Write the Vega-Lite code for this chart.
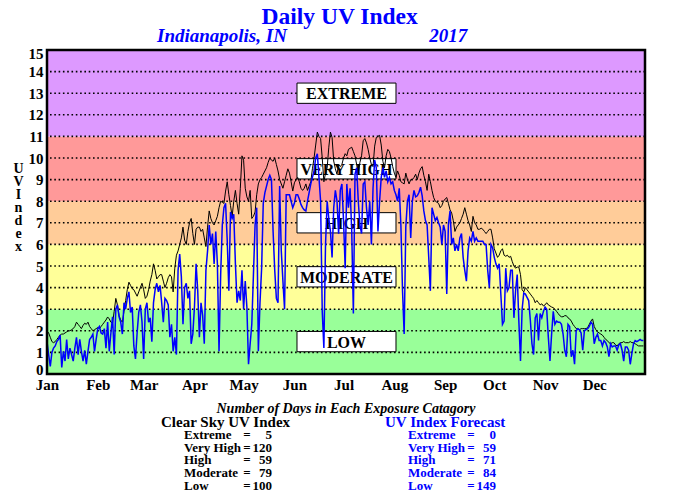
{
  "$schema": "https://vega.github.io/schema/vega-lite/v6.json",
  "padding": {"left": 12, "top": 5, "right": 5, "bottom": 5},
  "background": "white",
  "config": {"font": "Liberation Serif", "view": {"stroke": null}},
  "title": {
    "text": "Daily UV Index",
    "color": "#0000ff",
    "font": "Liberation Serif",
    "fontSize": 23.5,
    "fontWeight": "bold",
    "offset": -2,
    "dx": 10,
    "anchor": "middle"
  },
  "datasets": {
    "bands": [
      {"cat": "LOW", "lo": 0, "hi": 3, "mid": 1.5},
      {"cat": "MODERATE", "lo": 3, "hi": 6, "mid": 4.5},
      {"cat": "HIGH", "lo": 6, "hi": 8, "mid": 7},
      {"cat": "VERY HIGH", "lo": 8, "hi": 11, "mid": 9.5},
      {"cat": "EXTREME", "lo": 11, "hi": 15, "mid": 13}
    ],
    "grid": [{"g":1},{"g":2},{"g":3},{"g":4},{"g":5},{"g":6},{"g":7},{"g":8},{"g":9},{"g":10},{"g":11},{"g":12},{"g":13},{"g":14}],
    "counts": [
      {"group": "Clear Sky UV Index", "row": 1, "cat": "Extreme", "n": 5},
      {"group": "Clear Sky UV Index", "row": 2, "cat": "Very High", "n": 120},
      {"group": "Clear Sky UV Index", "row": 3, "cat": "High", "n": 59},
      {"group": "Clear Sky UV Index", "row": 4, "cat": "Moderate", "n": 79},
      {"group": "Clear Sky UV Index", "row": 5, "cat": "Low", "n": 100},
      {"group": "UV Index Forecast", "row": 1, "cat": "Extreme", "n": 0},
      {"group": "UV Index Forecast", "row": 2, "cat": "Very High", "n": 59},
      {"group": "UV Index Forecast", "row": 3, "cat": "High", "n": 71},
      {"group": "UV Index Forecast", "row": 4, "cat": "Moderate", "n": 84},
      {"group": "UV Index Forecast", "row": 5, "cat": "Low", "n": 149}
    ],
    "uv": [
{"d":0,"c":2.0,"f":1.5},{"d":1,"c":1.9,"f":0.9},{"d":2,"c":1.7,"f":0.35},{"d":3,"c":1.5,"f":1.0},{"d":4,"c":1.45,"f":1.2},{"d":5,"c":1.5,"f":1.3},{"d":6,"c":1.6,"f":1.5},{"d":7,"c":1.7,"f":1.6},{"d":8,"c":1.8,"f":1.8},{"d":9,"c":1.85,"f":0.3},
{"d":10,"c":1.85,"f":1.05},{"d":11,"c":1.9,"f":0.6},{"d":12,"c":1.95,"f":1.6},{"d":13,"c":2.0,"f":0.7},{"d":14,"c":2.0,"f":1.2},{"d":15,"c":2.05,"f":0.9},{"d":16,"c":2.1,"f":0.6},{"d":17,"c":2.2,"f":1.2},{"d":18,"c":2.4,"f":1.7},{"d":19,"c":2.3,"f":0.9},
{"d":20,"c":2.2,"f":1.6},{"d":21,"c":2.1,"f":1.05},{"d":22,"c":2.25,"f":0.6},{"d":23,"c":2.35,"f":1.1},{"d":24,"c":2.3,"f":0.45},{"d":25,"c":2.4,"f":1.05},{"d":26,"c":2.2,"f":1.6},{"d":27,"c":2.1,"f":1.7},{"d":28,"c":2.0,"f":1.85},{"d":29,"c":2.05,"f":1.05},
{"d":30,"c":2.1,"f":1.6},{"d":31,"c":2.15,"f":2.1},{"d":32,"c":2.1,"f":2.2},{"d":33,"c":2.2,"f":1.9},{"d":34,"c":2.3,"f":1.85},{"d":35,"c":2.4,"f":2.1},{"d":36,"c":2.5,"f":1.2},{"d":37,"c":2.64,"f":2.4},{"d":38,"c":2.55,"f":1.05},{"d":39,"c":2.4,"f":1.9},
{"d":40,"c":2.35,"f":2.65},{"d":41,"c":2.9,"f":0.9},{"d":42,"c":3.5,"f":3.0},{"d":43,"c":3.2,"f":3.2},{"d":44,"c":2.7,"f":2.65},{"d":45,"c":2.5,"f":2.4},{"d":46,"c":2.4,"f":1.85},{"d":47,"c":2.9,"f":3.3},{"d":48,"c":3.4,"f":3.0},{"d":49,"c":3.9,"f":3.5},
{"d":50,"c":4.25,"f":3.8},{"d":51,"c":4.1,"f":2.85},{"d":52,"c":3.95,"f":3.1},{"d":53,"c":3.9,"f":1.3},{"d":54,"c":3.75,"f":0.7},{"d":55,"c":3.6,"f":1.9},{"d":56,"c":3.8,"f":2.85},{"d":57,"c":4.0,"f":3.2},{"d":58,"c":4.2,"f":2.4},{"d":59,"c":3.9,"f":0.7},
{"d":60,"c":3.5,"f":3.0},{"d":61,"c":3.6,"f":3.3},{"d":62,"c":3.9,"f":2.4},{"d":63,"c":4.3,"f":2.6},{"d":64,"c":4.6,"f":1.5},{"d":65,"c":5.1,"f":3.3},{"d":66,"c":4.8,"f":3.9},{"d":67,"c":4.4,"f":4.2},{"d":68,"c":4.5,"f":3.8},{"d":69,"c":4.6,"f":4.1},
{"d":70,"c":4.6,"f":3.3},{"d":71,"c":4.3,"f":2.4},{"d":72,"c":4.0,"f":3.5},{"d":73,"c":4.2,"f":3.4},{"d":74,"c":4.46,"f":3.2},{"d":75,"c":4.6,"f":1.7},{"d":76,"c":4.5,"f":2.3},{"d":77,"c":3.8,"f":1.05},{"d":78,"c":4.9,"f":1.7},{"d":79,"c":5.5,"f":0.9},
{"d":80,"c":5.7,"f":4.8},{"d":81,"c":6.0,"f":5.55},{"d":82,"c":6.3,"f":4.5},{"d":83,"c":6.8,"f":2.3},{"d":84,"c":6.2,"f":4.0},{"d":85,"c":6.0,"f":4.2},{"d":86,"c":6.6,"f":3.5},{"d":87,"c":7.0,"f":3.85},{"d":88,"c":7.2,"f":1.4},{"d":89,"c":6.5,"f":1.85},
{"d":90,"c":6.0,"f":3.1},{"d":91,"c":6.7,"f":5.1},{"d":92,"c":6.8,"f":3.85},{"d":93,"c":6.8,"f":1.7},{"d":94,"c":6.6,"f":3.3},{"d":95,"c":6.7,"f":2.7},{"d":96,"c":6.3,"f":1.4},{"d":97,"c":5.9,"f":4.8},{"d":98,"c":6.8,"f":5.7},{"d":99,"c":7.55,"f":6.9},
{"d":100,"c":7.2,"f":6.0},{"d":101,"c":7.0,"f":6.5},{"d":102,"c":6.9,"f":5.1},{"d":103,"c":7.1,"f":6.6},{"d":104,"c":7.3,"f":5.1},{"d":105,"c":7.7,"f":1.05},{"d":106,"c":8.0,"f":4.6},{"d":107,"c":7.95,"f":6.9},{"d":108,"c":7.9,"f":7.7},{"d":109,"c":8.47,"f":7.9},
{"d":110,"c":8.9,"f":6.2},{"d":111,"c":8.3,"f":3.85},{"d":112,"c":7.8,"f":7.5},{"d":113,"c":7.3,"f":7.2},{"d":114,"c":8.0,"f":7.4},{"d":115,"c":8.5,"f":5.1},{"d":116,"c":7.9,"f":3.3},{"d":117,"c":7.4,"f":3.85},{"d":118,"c":8.6,"f":3.4},{"d":119,"c":10.1,"f":4.8},
{"d":120,"c":9.9,"f":3.0},{"d":121,"c":8.6,"f":4.3},{"d":122,"c":8.2,"f":3.1},{"d":123,"c":8.0,"f":0.45},{"d":124,"c":8.5,"f":1.4},{"d":125,"c":7.2,"f":2.3},{"d":126,"c":7.3,"f":4.6},{"d":127,"c":7.5,"f":6.9},{"d":128,"c":8.3,"f":7.7},{"d":129,"c":8.8,"f":1.05},
{"d":130,"c":9.0,"f":3.3},{"d":131,"c":9.1,"f":4.9},{"d":132,"c":9.25,"f":7.9},{"d":133,"c":9.4,"f":8.4},{"d":134,"c":9.55,"f":8.7},{"d":135,"c":9.8,"f":9.0},{"d":136,"c":10.0,"f":9.2},{"d":137,"c":9.9,"f":9.0},{"d":138,"c":9.85,"f":6.6},{"d":139,"c":10.0,"f":4.8},
{"d":140,"c":9.7,"f":3.5},{"d":141,"c":9.4,"f":3.3},{"d":142,"c":9.0,"f":8.7},{"d":143,"c":8.8,"f":5.7},{"d":144,"c":8.6,"f":4.3},{"d":145,"c":8.9,"f":3.0},{"d":146,"c":9.2,"f":8.3},{"d":147,"c":9.5,"f":8.3},{"d":148,"c":9.3,"f":8.3},{"d":149,"c":8.9,"f":8.0},
{"d":150,"c":8.47,"f":7.7},{"d":151,"c":8.85,"f":7.9},{"d":152,"c":9.0,"f":8.3},{"d":153,"c":9.1,"f":8.3},{"d":154,"c":8.9,"f":8.1},{"d":155,"c":8.6,"f":7.85},{"d":156,"c":8.5,"f":7.7},{"d":157,"c":8.6,"f":7.6},{"d":158,"c":8.8,"f":7.55},{"d":159,"c":8.5,"f":8.0},
{"d":160,"c":8.7,"f":8.4},{"d":161,"c":8.9,"f":8.8},{"d":162,"c":9.5,"f":9.1},{"d":163,"c":10.0,"f":9.4},{"d":164,"c":10.6,"f":10.0},{"d":165,"c":11.2,"f":10.2},{"d":166,"c":11.0,"f":9.1},{"d":167,"c":10.9,"f":8.0},{"d":168,"c":10.0,"f":2.9},{"d":169,"c":8.9,"f":1.2},
{"d":170,"c":9.3,"f":6.0},{"d":171,"c":9.55,"f":8.0},{"d":172,"c":10.5,"f":7.2},{"d":173,"c":11.2,"f":6.6},{"d":174,"c":10.95,"f":5.4},{"d":175,"c":9.86,"f":7.7},{"d":176,"c":9.5,"f":8.5},{"d":177,"c":9.25,"f":8.0},{"d":178,"c":9.7,"f":6.5},{"d":179,"c":9.6,"f":8.5},
{"d":180,"c":9.7,"f":8.8},{"d":181,"c":10.0,"f":7.1},{"d":182,"c":10.2,"f":4.9},{"d":183,"c":10.1,"f":8.8},{"d":184,"c":10.4,"f":7.7},{"d":185,"c":10.45,"f":8.6},{"d":186,"c":10.5,"f":6.6},{"d":187,"c":10.3,"f":2.8},{"d":188,"c":10.1,"f":9.25},{"d":189,"c":9.7,"f":9.55},
{"d":190,"c":9.3,"f":8.0},{"d":191,"c":9.8,"f":6.9},{"d":192,"c":10.1,"f":6.5},{"d":193,"c":10.8,"f":8.8},{"d":194,"c":10.9,"f":8.9},{"d":195,"c":10.7,"f":7.7},{"d":196,"c":10.4,"f":6.9},{"d":197,"c":10.0,"f":8.0},{"d":198,"c":9.7,"f":6.0},{"d":199,"c":9.6,"f":8.6},
{"d":200,"c":10.55,"f":9.9},{"d":201,"c":10.95,"f":9.55},{"d":202,"c":11.0,"f":6.6},{"d":203,"c":11.05,"f":8.0},{"d":204,"c":10.6,"f":9.1},{"d":205,"c":9.85,"f":9.55},{"d":206,"c":9.55,"f":9.1},{"d":207,"c":10.1,"f":9.4},{"d":208,"c":10.4,"f":8.9},{"d":209,"c":10.3,"f":9.1},
{"d":210,"c":10.0,"f":8.8},{"d":211,"c":9.6,"f":8.9},{"d":212,"c":9.3,"f":8.5},{"d":213,"c":9.1,"f":8.3},{"d":214,"c":9.4,"f":8.0},{"d":215,"c":9.2,"f":8.6},{"d":216,"c":8.9,"f":6.9},{"d":217,"c":8.85,"f":3.85},{"d":218,"c":8.8,"f":1.85},{"d":219,"c":9.3,"f":6.8},
{"d":220,"c":9.0,"f":8.0},{"d":221,"c":8.8,"f":8.3},{"d":222,"c":9.0,"f":6.3},{"d":223,"c":9.0,"f":8.0},{"d":224,"c":9.1,"f":8.5},{"d":225,"c":9.25,"f":8.2},{"d":226,"c":9.0,"f":8.25},{"d":227,"c":9.3,"f":8.4},{"d":228,"c":9.5,"f":8.65},{"d":229,"c":9.6,"f":8.25},
{"d":230,"c":9.2,"f":7.55},{"d":231,"c":8.9,"f":7.1},{"d":232,"c":8.5,"f":6.9},{"d":233,"c":9.25,"f":5.4},{"d":234,"c":8.9,"f":3.85},{"d":235,"c":8.5,"f":7.7},{"d":236,"c":8.17,"f":7.4},{"d":237,"c":8.0,"f":7.1},{"d":238,"c":7.95,"f":7.25},{"d":239,"c":7.9,"f":7.0},
{"d":240,"c":7.7,"f":6.8},{"d":241,"c":7.8,"f":6.0},{"d":242,"c":8.0,"f":6.9},{"d":243,"c":8.1,"f":6.6},{"d":244,"c":8.17,"f":3.7},{"d":245,"c":7.9,"f":6.9},{"d":246,"c":7.6,"f":7.55},{"d":247,"c":7.45,"f":6.0},{"d":248,"c":7.1,"f":6.3},{"d":249,"c":6.6,"f":5.7},
{"d":250,"c":6.8,"f":6.0},{"d":251,"c":6.9,"f":5.7},{"d":252,"c":7.0,"f":6.3},{"d":253,"c":7.2,"f":6.5},{"d":254,"c":7.4,"f":5.4},{"d":255,"c":7.7,"f":4.8},{"d":256,"c":7.4,"f":4.3},{"d":257,"c":7.1,"f":5.7},{"d":258,"c":6.9,"f":6.3},{"d":259,"c":6.6,"f":6.15},
{"d":260,"c":7.3,"f":6.6},{"d":261,"c":7.0,"f":6.15},{"d":262,"c":6.9,"f":6.3},{"d":263,"c":6.7,"f":6.15},{"d":264,"c":6.7,"f":6.15},{"d":265,"c":6.75,"f":6.15},{"d":266,"c":6.7,"f":6.15},{"d":267,"c":6.6,"f":6.0},{"d":268,"c":6.5,"f":6.0},{"d":269,"c":6.6,"f":4.8},
{"d":270,"c":6.7,"f":4.0},{"d":271,"c":6.7,"f":6.0},{"d":272,"c":6.3,"f":5.85},{"d":273,"c":5.8,"f":5.4},{"d":274,"c":5.6,"f":5.1},{"d":275,"c":5.4,"f":4.9},{"d":276,"c":5.5,"f":5.1},{"d":277,"c":5.7,"f":3.7},{"d":278,"c":5.8,"f":2.3},{"d":279,"c":5.5,"f":2.45},
{"d":280,"c":5.45,"f":4.9},{"d":281,"c":5.5,"f":3.85},{"d":282,"c":5.4,"f":4.0},{"d":283,"c":5.45,"f":4.8},{"d":284,"c":5.2,"f":4.8},{"d":285,"c":5.0,"f":2.6},{"d":286,"c":4.9,"f":3.85},{"d":287,"c":4.95,"f":4.6},{"d":288,"c":4.95,"f":2.45},{"d":289,"c":4.6,"f":0.6},
{"d":290,"c":3.9,"f":3.0},{"d":291,"c":3.8,"f":3.75},{"d":292,"c":4.0,"f":3.7},{"d":293,"c":3.9,"f":3.55},{"d":294,"c":3.8,"f":3.4},{"d":295,"c":3.7,"f":2.5},{"d":296,"c":3.6,"f":1.4},{"d":297,"c":3.5,"f":0.9},{"d":298,"c":3.3,"f":2.6},{"d":299,"c":3.4,"f":2.8},
{"d":300,"c":3.3,"f":1.55},{"d":301,"c":3.2,"f":2.8},{"d":302,"c":3.25,"f":2.6},{"d":303,"c":3.15,"f":2.9},{"d":304,"c":3.2,"f":3.1},{"d":305,"c":3.3,"f":3.0},{"d":306,"c":3.2,"f":1.7},{"d":307,"c":3.15,"f":0.6},{"d":308,"c":3.1,"f":1.85},{"d":309,"c":3.07,"f":2.9},
{"d":310,"c":3.0,"f":2.3},{"d":311,"c":2.9,"f":2.45},{"d":312,"c":2.8,"f":2.4},{"d":313,"c":2.7,"f":2.4},{"d":314,"c":2.65,"f":2.3},{"d":315,"c":2.65,"f":1.85},{"d":316,"c":2.7,"f":1.1},{"d":317,"c":2.7,"f":0.8},{"d":318,"c":2.6,"f":2.3},{"d":319,"c":2.55,"f":2.2},
{"d":320,"c":2.45,"f":0.8},{"d":321,"c":2.3,"f":1.1},{"d":322,"c":2.2,"f":0.45},{"d":323,"c":2.1,"f":2.0},{"d":324,"c":2.1,"f":2.1},{"d":325,"c":2.05,"f":2.05},{"d":326,"c":2.1,"f":1.9},{"d":327,"c":2.1,"f":1.1},{"d":328,"c":2.1,"f":2.0},{"d":329,"c":2.1,"f":2.05},
{"d":330,"c":2.15,"f":2.1},{"d":331,"c":2.3,"f":2.2},{"d":332,"c":2.45,"f":2.4},{"d":333,"c":2.55,"f":2.3},{"d":334,"c":2.2,"f":1.4},{"d":335,"c":2.05,"f":1.7},{"d":336,"c":1.95,"f":1.85},{"d":337,"c":1.9,"f":1.55},{"d":338,"c":1.85,"f":1.55},{"d":339,"c":1.8,"f":1.3},
{"d":340,"c":1.7,"f":1.55},{"d":341,"c":1.6,"f":1.45},{"d":342,"c":1.55,"f":1.25},{"d":343,"c":1.45,"f":0.8},{"d":344,"c":1.4,"f":1.4},{"d":345,"c":1.45,"f":1.25},{"d":346,"c":1.45,"f":1.3},{"d":347,"c":1.35,"f":1.3},{"d":348,"c":1.3,"f":1.1},{"d":349,"c":1.4,"f":1.35},
{"d":350,"c":1.45,"f":1.4},{"d":351,"c":1.45,"f":1.1},{"d":352,"c":1.5,"f":0.6},{"d":353,"c":1.45,"f":1.25},{"d":354,"c":1.45,"f":1.25},{"d":355,"c":1.45,"f":1.1},{"d":356,"c":1.5,"f":0.45},{"d":357,"c":1.45,"f":0.95},{"d":358,"c":1.45,"f":1.4},{"d":359,"c":1.4,"f":1.55},
{"d":360,"c":1.35,"f":1.5},{"d":361,"c":1.3,"f":1.55},{"d":362,"c":1.3,"f":1.6},{"d":363,"c":1.3,"f":1.55},{"d":364,"c":1.3,"f":1.55}
    ]
  },
  "vconcat": [
    {
      "width": 598,
      "height": 324,
      "title": {
        "text": "Indianapolis, IN\u00a0\u00a0\u00a0\u00a0\u00a0\u00a0\u00a0\u00a0\u00a0\u00a0\u00a0\u00a0\u00a0\u00a0\u00a0\u00a0\u00a0\u00a0\u00a0\u00a0\u00a0\u00a0\u00a0\u00a0\u00a0\u00a0\u00a0\u00a0\u00a0\u00a02017",
        "anchor": "start", "frame": "group", "dx": 110,
        "font": "Liberation Serif", "fontSize": 19, "fontStyle": "italic", "fontWeight": "bold",
        "color": "#0000ff", "offset": 1
      },
      "layer": [
        {
          "data": {"name": "bands"},
          "mark": {"type": "rect"},
          "encoding": {
            "y": {
              "field": "lo", "type": "quantitative",
              "scale": {"domain": [0, 15], "nice": false, "zero": true},
              "axis": {
                "values": [0,1,2,3,4,5,6,7,8,9,10,11,12,13,14,15],
                "title": ["U", "V", "\u00a0", "I", "n", "d", "e", "x"],
                "titleAngle": 0, "titleAlign": "center", "titleBaseline": "top",
                "titleX": -29, "titleY": 111,
                "titleFont": "Liberation Serif", "titleFontSize": 14, "titleFontWeight": "bold",
                "titleLineHeight": 13, "titleColor": "black",
                "labelFont": "Liberation Serif", "labelFontSize": 15, "labelFontWeight": "bold",
                "labelColor": "black", "labelPadding": 4, "labelFlush": true, "labelFlushOffset": 3.5, "labelOverlap": false,
                "ticks": false, "domain": false, "grid": false
              }
            },
            "y2": {"field": "hi"},
            "color": {
              "field": "cat", "type": "nominal",
              "scale": {"domain": ["LOW", "MODERATE", "HIGH", "VERY HIGH", "EXTREME"], "range": ["#99ff99", "#ffff99", "#ffcc99", "#ff9999", "#dd99ff"]},
              "legend": null
            }
          }
        },
        {
          "data": {"name": "grid"},
          "mark": {"type": "rule", "color": "black", "strokeWidth": 1.6, "strokeDash": [1.6, 2.7]},
          "encoding": {"y": {"field": "g", "type": "quantitative", "axis": null}}
        },
        {
          "data": {"name": "bands"},
          "mark": {"type": "point", "shape": "M-1,-0.205H1V0.205H-1Z", "size": 9801, "filled": true, "fill": "white", "stroke": "black", "strokeWidth": 1, "opacity": 1},
          "encoding": {
            "x": {"datum": 182.8, "type": "quantitative", "axis": null},
            "y": {"field": "mid", "type": "quantitative", "axis": null}
          }
        },
        {
          "data": {"name": "bands"},
          "mark": {"type": "text", "font": "Liberation Serif", "fontSize": 16, "fontWeight": "bold", "color": "black", "baseline": "middle", "dy": 1},
          "encoding": {
            "x": {"datum": 182.8, "type": "quantitative", "axis": null},
            "y": {"field": "mid", "type": "quantitative", "axis": null},
            "text": {"field": "cat"}
          }
        },
        {
          "data": {"name": "uv"},
          "mark": {"type": "line", "color": "black", "strokeWidth": 1},
          "encoding": {
            "x": {
              "field": "d", "type": "quantitative",
              "scale": {"domain": [0, 365], "nice": false, "zero": false},
              "axis": {"orient": "top", "values": [31,59,90,120,151,181,212,243,273,304,334], "labels": false, "tickSize": -5, "tickColor": "black", "tickWidth": 1.5, "domain": false, "grid": false, "title": null}
            },
            "y": {"field": "c", "type": "quantitative", "axis": null}
          }
        },
        {
          "data": {"name": "uv"},
          "mark": {"type": "line", "color": "#0000ff", "strokeWidth": 1.5},
          "encoding": {
            "x": {
              "field": "d", "type": "quantitative",
              "axis": {
                "orient": "bottom", "values": [0,31,59,90,120,151,181,212,243,273,304,334],
                "labelExpr": "timeFormat(datetime(2017,0,1+datum.value),'%b')",
                "tickSize": -6, "tickColor": "black", "tickWidth": 1.5, "labelPadding": 9,
                "labelFont": "Liberation Serif", "labelFontSize": 15, "labelFontWeight": "bold", "labelColor": "black",
                "labelFlush": false, "labelOverlap": false, "domain": false, "grid": false, "title": null
              }
            },
            "y": {"field": "f", "type": "quantitative", "axis": null}
          }
        },
        {
          "data": {"values": [{}]},
          "mark": {"type": "rect", "fill": null, "stroke": "black", "strokeWidth": 2.5},
          "encoding": {
            "x": {"datum": 0, "type": "quantitative", "axis": null},
            "x2": {"datum": 365},
            "y": {"datum": 0, "type": "quantitative", "axis": null},
            "y2": {"datum": 15}
          }
        }
      ],
      "resolve": {"axis": {"x": "independent", "y": "independent"}}
    },
    {
      "width": 598,
      "height": 64,
      "title": {"text": "Number of Days in Each Exposure Catagory", "font": "Liberation Serif", "fontSize": 14, "fontStyle": "italic", "fontWeight": "bold", "color": "black", "offset": -1, "anchor": "middle"},
      "data": {"name": "counts"},
      "encoding": {
        "x": {"field": "group", "type": "nominal", "scale": {"type": "point", "padding": 0.8348, "align": 0.3663, "domain": ["Clear Sky UV Index", "UV Index Forecast"]}, "axis": null},
        "y": {"field": "row", "type": "ordinal", "scale": {"type": "point", "padding": 0, "domain": [0, 1, 2, 3, 4, 5]}, "axis": null},
        "color": {"field": "group", "type": "nominal", "scale": {"domain": ["Clear Sky UV Index", "UV Index Forecast"], "range": ["#000000", "#0000ff"]}, "legend": null}
      },
      "layer": [
        {
          "data": {"values": [{"group": "Clear Sky UV Index", "row": 0}, {"group": "UV Index Forecast", "row": 0}]},
          "mark": {"type": "text", "align": "left", "dx": -23, "font": "Liberation Serif", "fontSize": 15, "fontWeight": "bold", "baseline": "middle"},
          "encoding": {"text": {"field": "group"}}
        },
        {
          "mark": {"type": "text", "align": "left", "font": "Liberation Serif", "fontSize": 13, "fontWeight": "bold", "baseline": "middle"},
          "encoding": {"text": {"field": "cat"}}
        },
        {
          "mark": {"type": "text", "align": "center", "dx": 63, "font": "Liberation Serif", "fontSize": 13, "fontWeight": "bold", "baseline": "middle"},
          "encoding": {"text": {"value": "="}}
        },
        {
          "mark": {"type": "text", "align": "right", "dx": 88, "font": "Liberation Serif", "fontSize": 13, "fontWeight": "bold", "baseline": "middle"},
          "encoding": {"text": {"field": "n", "type": "quantitative"}}
        }
      ]
    }
  ],
  "spacing": 10,
  "resolve": {"scale": {"color": "independent"}}
}
